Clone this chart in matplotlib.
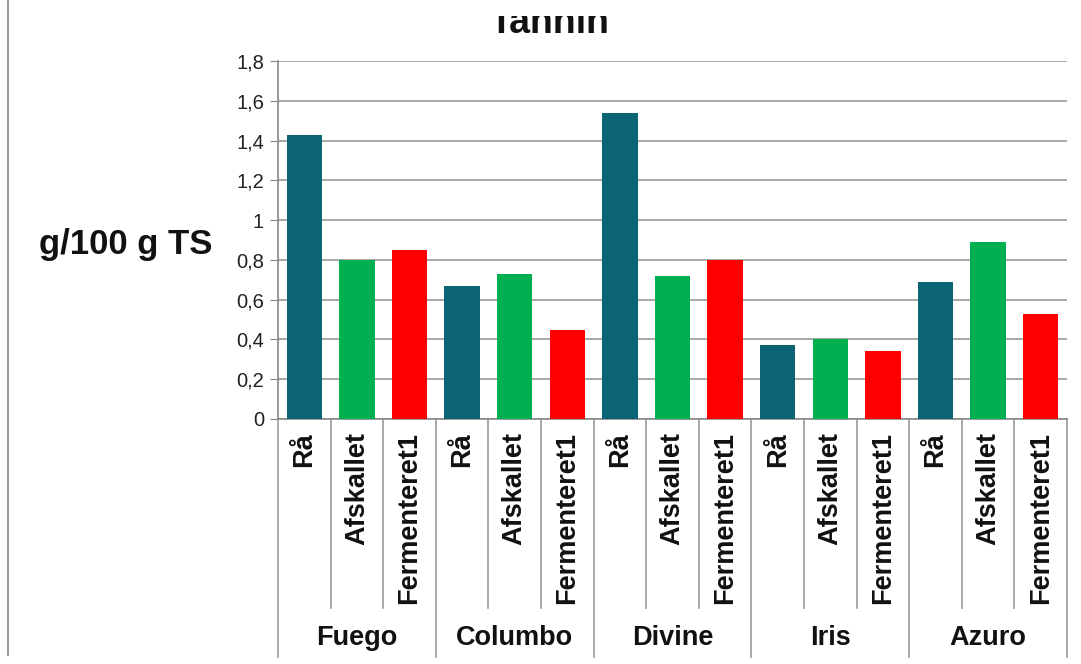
import matplotlib
matplotlib.use("Agg")
import matplotlib.pyplot as plt
from matplotlib.lines import Line2D
from matplotlib.transforms import Bbox, TransformedBbox, blended_transform_factory
import numpy as np

plt.rcParams['font.family'] = ['Liberation Sans', 'DejaVu Sans']

title = "Tannin"
ylabel = "g/100 g TS"
groups = ["Fuego", "Columbo", "Divine", "Iris", "Azuro"]
treatments = ["Rå", "Afskallet", "Fermenteret1"]
values_raa = [1.43, 0.67, 1.54, 0.37, 0.69]
values_afskallet = [0.80, 0.73, 0.72, 0.40, 0.89]
values_fermenteret = [0.85, 0.45, 0.80, 0.34, 0.53]
colors = ["#0b6474", "#00b050", "#ff0000"]
yticks = [0, 0.2, 0.4, 0.6, 0.8, 1.0, 1.2, 1.4, 1.6, 1.8]
ytick_labels = ["0", "0,2", "0,4", "0,6", "0,8", "1", "1,2", "1,4", "1,6", "1,8"]

W, H = 1081, 664
fig = plt.figure(figsize=(W / 100, H / 100), dpi=100)
ax = fig.add_axes([278 / W, 1 - 419 / H, (1067 - 278) / W, (419 - 61) / H])

series = [values_raa, values_afskallet, values_fermenteret]
ng, nt = len(groups), len(treatments)
for ti, vals in enumerate(series):
    xs = [g * nt + ti for g in range(ng)]
    ax.bar(xs, vals, width=0.67, color=colors[ti], zorder=3)

ax.set_xlim(-0.5, ng * nt - 0.5)
ax.set_ylim(0, 1.8)
ax.set_yticks(yticks)
ax.set_yticklabels(ytick_labels, fontsize=14.5, color="#222222")
ax.tick_params(axis='y', length=6, color="#888888", pad=4)
ax.set_xticks([])
ax.yaxis.grid(True, color="#9a9a9a", linewidth=1.2, zorder=0)
for s in ["top", "right"]:
    ax.spines[s].set_visible(False)
ax.spines["left"].set_color("#888888")
ax.spines["bottom"].set_color("#888888")
ax.spines["left"].set_linewidth(1.2)
ax.spines["bottom"].set_linewidth(1.2)

trans = blended_transform_factory(ax.transData, ax.transAxes)
axh = (419 - 61)
inner_bottom = -(608 - 419) / axh
group_bottom = -(657 - 419) / axh
for g in range(ng):
    for ti in range(nt):
        x = g * nt + ti
        ax.text(x, -13 / axh, treatments[ti], rotation=90, ha='center', va='top',
                fontsize=19.5, fontweight='bold', transform=trans, color="#111111")
        if ti > 0:
            ax.add_line(Line2D([x - 0.5, x - 0.5], [0, inner_bottom], transform=trans,
                               color="#999999", linewidth=1.2, clip_on=False))
    ax.add_line(Line2D([g * nt - 0.5, g * nt - 0.5], [0, group_bottom], transform=trans,
                       color="#999999", linewidth=1.2, clip_on=False))
    ax.text(g * nt + 1, -(638 - 419) / axh, groups[g], ha='center', va='center',
            fontsize=19.5, fontweight='bold', transform=trans, color="#111111")
ax.add_line(Line2D([ng * nt - 0.5, ng * nt - 0.5], [0, group_bottom], transform=trans,
                   color="#999999", linewidth=1.2, clip_on=False))

fig.text(126 / W, 1 - 245 / H, ylabel, ha='center', va='center', fontsize=25,
         fontweight='bold', color="#111111")

t = fig.text(550 / W, 1 - 33 / H, title, ha='center', va='baseline', fontsize=27,
             fontweight='bold', color="#111111")
t.set_clip_box(TransformedBbox(Bbox([[0, 0], [1, 1 - 16 / H]]), fig.transFigure))

fig.add_artist(Line2D([8 / W, 8 / W], [1 - 655 / H, 1], transform=fig.transFigure,
                      color="#999999", linewidth=1.5))

fig.savefig("out.png", dpi=100)
